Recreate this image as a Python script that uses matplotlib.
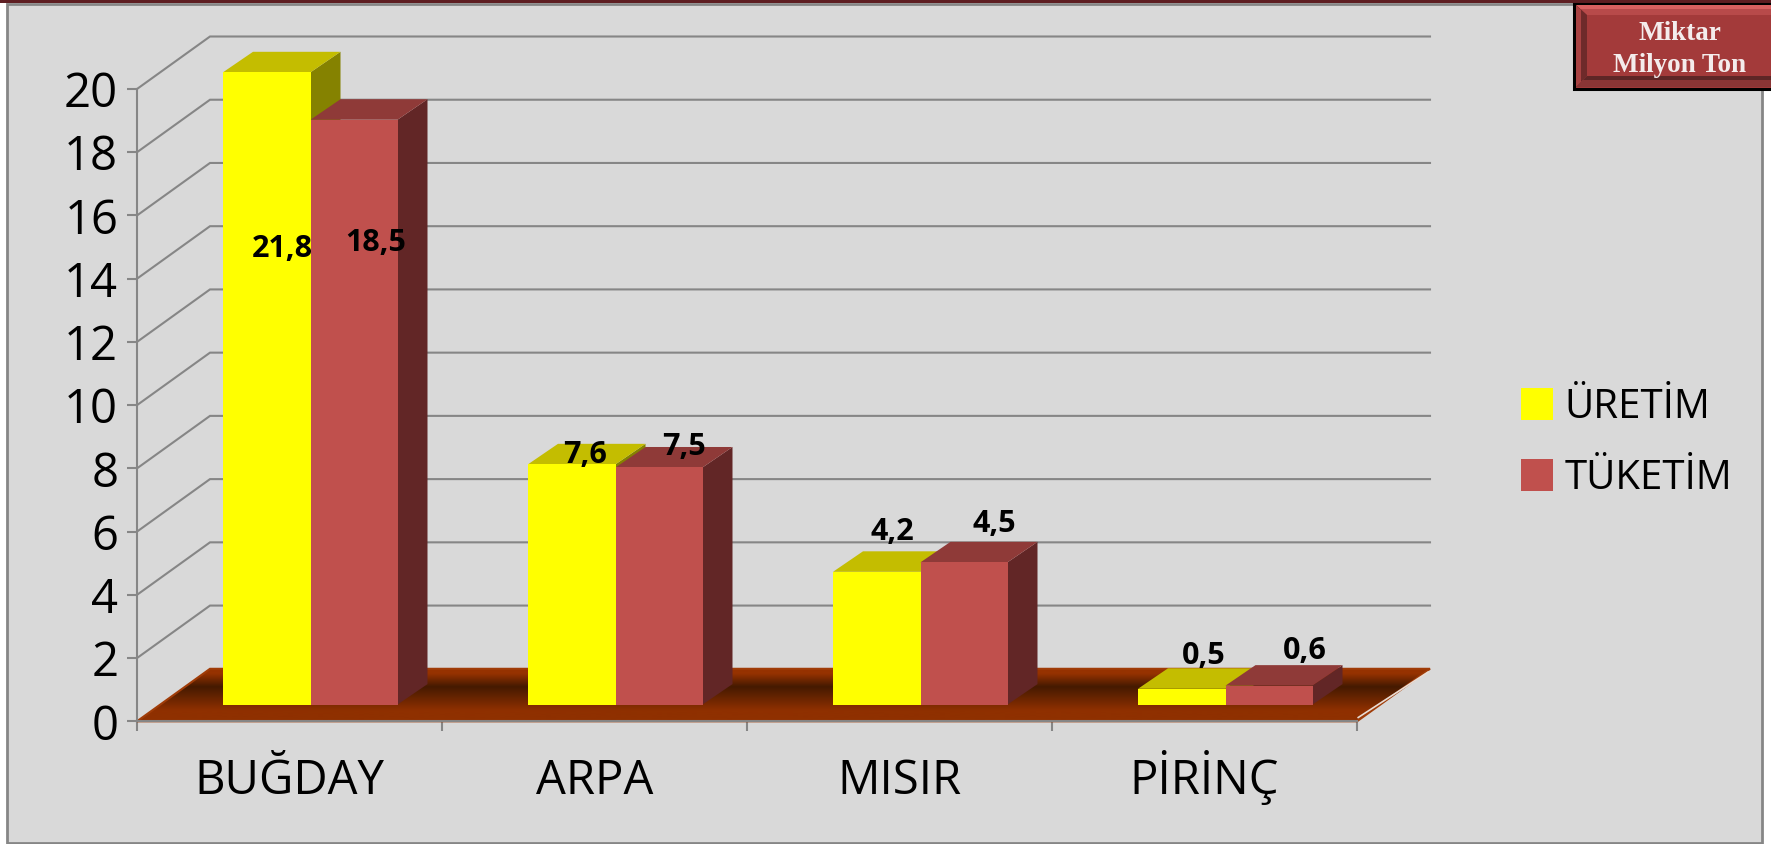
import numpy as np
import matplotlib
matplotlib.use("Agg")
import matplotlib.pyplot as plt
from matplotlib.colors import LinearSegmentedColormap
from matplotlib.patches import Polygon, Rectangle

categories = ["BUĞDAY", "ARPA", "MISIR", "PİRİNÇ"]
uretim = [21.8, 7.6, 4.2, 0.5]
tuketim = [18.5, 7.5, 4.5, 0.6]
uretim_labels = ["21,8", "7,6", "4,2", "0,5"]
tuketim_labels = ["18,5", "7,5", "4,5", "0,6"]
y_ticks = [0, 2, 4, 6, 8, 10, 12, 14, 16, 18, 20]
series_names = ["ÜRETİM", "TÜKETİM"]

W, H = 1771, 844
FONT = "Open Sans"
GRID = "#868686"
YMAX = 20

# front plane of the chart, in pixels
X0, X1, Y0, Y1 = 137, 1357, 721.3, 89
px_x = (X1 - X0) / len(categories)
px_y = (Y0 - Y1) / YMAX

# oblique offsets, in data units
wall_dx, wall_dy = 73 / px_x, 52.5 / px_y
bar_dx, bar_dy = 30 / px_x, 20.5 / px_y
bar_base = 16.7 / px_y
bar_start = 86 / px_x
bar_w1, bar_w2 = 87.5 / px_x, 87 / px_x

# label offsets from the front top centre of each bar, in pixels
uretim_off = [(16, -177), (13, 9), (16, 40), (22, 33)]
tuketim_off = [(22, -123), (25, 20), (30, 38), (36, 35)]

fig = plt.figure(figsize=(W / 100, H / 100), dpi=100, facecolor="white")

# panel and button, in pixel coordinates
bg = fig.add_axes([0, 0, 1, 1], zorder=0)
bg.set_xlim(0, W)
bg.set_ylim(H, 0)
bg.axis("off")
bg.add_patch(Rectangle((7.5, 4), 1755, 838.5, fc="#D9D9D9", ec=GRID, lw=2))
bg.add_patch(Rectangle((0, 0), W, 2.5, fc="#5E1E22", ec="none"))

ax = fig.add_axes([X0 / W, 1 - Y0 / H, (X1 - X0) / W, (Y0 - Y1) / H], zorder=1)
ax.patch.set_alpha(0)

# floor with the dark band through it
floor = Polygon([(0, 0), (wall_dx, wall_dy), (4 + wall_dx, wall_dy), (4, 0)],
                closed=True, fc="none", ec="#A03C08", lw=1.5, zorder=2, clip_on=False)
ax.add_patch(floor)
grad = LinearSegmentedColormap.from_list(
    "floor", [(0, "#8F3000"), (0.2, "#8F3000"), (0.65, "#451A00"), (0.9, "#963200"), (1, "#963200")])
img = ax.imshow(np.linspace(0, 1, 200).reshape(-1, 1), cmap=grad, aspect="auto",
                extent=(0, 4 + wall_dx, 0, wall_dy), origin="lower", zorder=1.5)
img.set_clip_box(fig.bbox)
img.set_clip_path(floor)
ax.set_xlim(0, len(categories))
ax.set_ylim(0, YMAX)
ax.plot([4 + 0.004, 4 + wall_dx - 0.006], [0.12, wall_dy - 0.1], color="#E8DCD4", lw=1.2,
        zorder=3, clip_on=False)

# grid on the side and back walls
for t in y_ticks[1:]:
    ax.plot([0, wall_dx, 4 + wall_dx], [t, t + wall_dy, t + wall_dy], color=GRID, lw=1.5,
            zorder=1, clip_on=False, solid_joinstyle="miter")


def draw_bar(x, w, value, front, top, side):
    h = min(value, YMAX)
    y0 = bar_base
    y1 = bar_base + h
    ax.add_patch(Polygon([(x + w, y0), (x + w + bar_dx, y0 + bar_dy), (x + w + bar_dx, y1 + bar_dy),
                          (x + w, y1)], fc=side, ec="none", zorder=4, clip_on=False))
    ax.add_patch(Polygon([(x, y1), (x + bar_dx, y1 + bar_dy), (x + w + bar_dx, y1 + bar_dy),
                          (x + w, y1)], fc=top, ec="none", zorder=4, clip_on=False))
    ax.add_patch(Rectangle((x, y0), w, h, fc=front, ec="none", zorder=5, clip_on=False))
    return x + w / 2, y1


for i in range(len(categories)):
    xa = i + bar_start
    xb = xa + bar_w1
    # the red bar goes second, it covers the yellow side face
    pa = draw_bar(xa, bar_w1, uretim[i], "#FFFF00", "#C4BD00", "#858200")
    pb = draw_bar(xb, bar_w2, tuketim[i], "#C0504D", "#8F3A38", "#622626")
    for p, label, off in ((pa, uretim_labels[i], uretim_off[i]), (pb, tuketim_labels[i], tuketim_off[i])):
        ax.annotate(label, xy=p, xytext=(off[0] * 0.72, off[1] * 0.72), textcoords="offset points",
                    ha="center", va="center", fontsize=22, fontweight="bold", family=FONT,
                    color="black", zorder=8, annotation_clip=False)

# axes
for s in ("top", "right"):
    ax.spines[s].set_visible(False)
for s in ("left", "bottom"):
    ax.spines[s].set_color(GRID)
    ax.spines[s].set_linewidth(1.5)
    ax.spines[s].set_zorder(3)
ax.set_yticks(y_ticks)
ax.set_yticklabels([str(t) for t in y_ticks], family=FONT, fontsize=34)
ax.tick_params(axis="y", length=7, width=1.5, color=GRID, pad=6.5)
ax.set_xticks(range(len(categories) + 1))
ax.set_xticklabels([])
ax.tick_params(axis="x", which="major", length=7, width=1.5, color=GRID)
ax.set_xticks(np.arange(len(categories)) + 0.5, minor=True)
ax.set_xticklabels(categories, minor=True, family=FONT, fontsize=34, va="baseline")
ax.tick_params(axis="x", which="minor", length=0, pad=52.5)

# legend
handles = [Rectangle((0, 0), 1, 1, fc="#FFFF00"), Rectangle((0, 0), 1, 1, fc="#C0504D")]
ax.legend(handles, series_names, loc="center left", bbox_to_anchor=((1521 - X0) / (X1 - X0), 0.44),
          frameon=False, prop={"family": FONT, "size": 29}, handlelength=0.8, handleheight=0.85,
          handletextpad=0.28, labelspacing=0.75, borderpad=0, borderaxespad=0)

# title button, two steps of shading on each bevel
top = fig.add_axes([0, 0, 1, 1], zorder=2)
top.set_xlim(0, W)
top.set_ylim(H, 0)
top.axis("off")
top.add_patch(Rectangle((1574, 3.5), 210, 85, fc="#A33A3A", ec="black", lw=2.2))
top.add_patch(Polygon([(1576, 5), (1771, 5), (1771, 15), (1587, 15)], fc="#B84A4A", ec="none"))
top.add_patch(Polygon([(1576, 5), (1771, 5), (1771, 9), (1580, 9)], fc="#D86060", ec="none"))
top.add_patch(Polygon([(1576, 5), (1587, 15), (1587, 76), (1576, 87)], fc="#6E2A2A", ec="none"))
top.add_patch(Polygon([(1576, 5), (1581, 10), (1581, 82), (1576, 87)], fc="#A84242", ec="none"))
top.add_patch(Polygon([(1576, 87), (1587, 76), (1771, 76), (1771, 87)], fc="#8A3535", ec="none"))
top.add_patch(Polygon([(1583, 80), (1587, 76), (1771, 76), (1771, 80)], fc="#5E2626", ec="none"))
top.text(1680, 33.5, "Miktar", color="#F4ECEC", family="Liberation Serif", fontweight="bold",
         fontsize=19.5, ha="center", va="center")
top.text(1680, 65, "Milyon Ton", color="#F4ECEC", family="Liberation Serif", fontweight="bold",
         fontsize=19.5, ha="center", va="center")

fig.savefig("out.png", dpi=100)
